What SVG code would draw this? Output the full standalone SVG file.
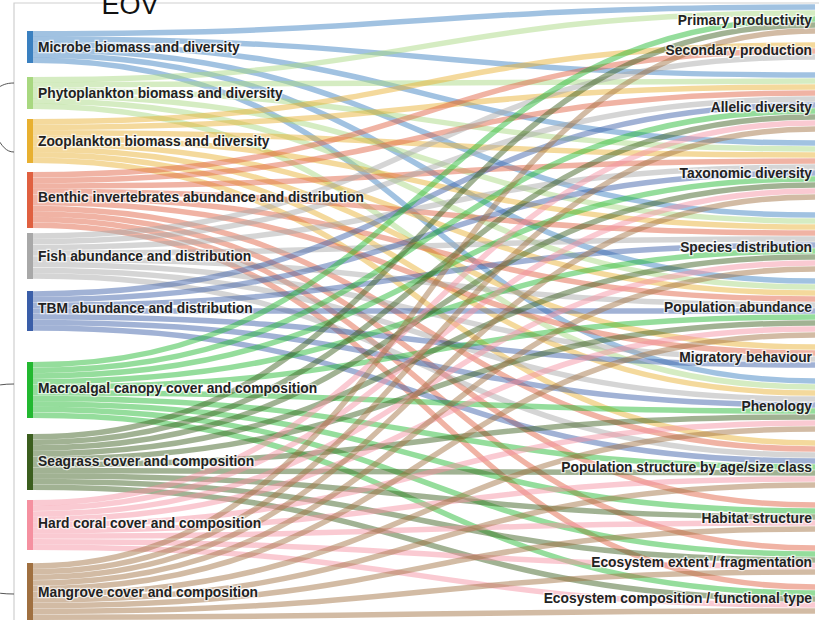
<svg xmlns="http://www.w3.org/2000/svg" width="819" height="620" viewBox="0 0 819 620">
<style>
.lk path{fill:none;stroke-width:5.5;stroke-opacity:0.48}
.c1{stroke:#3a80c0}.c2{stroke:#a8d880}.c3{stroke:#e8b030}.c4{stroke:#e06040}.c5{stroke:#a8a8a8}
.c6{stroke:#3a5ea8}.c7{stroke:#22b830}.c8{stroke:#3b5e1e}.c9{stroke:#f590a0}.c10{stroke:#a07040}
text{font-family:"Liberation Sans",Arial,sans-serif;font-weight:bold;font-size:13.8px;fill:#222;paint-order:stroke;stroke:rgba(255,255,255,0.7);stroke-width:2.5px}
.r text{text-anchor:end}
.frame{fill:none;stroke:#cfcfcf;stroke-width:1.2}
.br{fill:none;stroke:#555;stroke-width:1}
</style>
<rect width="819" height="620" fill="#fff"/>
<path class="frame" d="M14 620V3H819"/>
<path class="br" d="M14 83C6 83 2 85 -4 89L-20 117L-4 136C2 146 6 152 14 152"/>
<path class="br" d="M14 384C4 384 -4 385 -12 388L-20 489L-12 591C-4 593 4 594 14 594"/>
<text x="130" y="14" style="font-weight:normal;font-size:27px;text-anchor:middle;stroke:none;fill:#111">EOV</text>
<g id="connectors" class="lk">
<path class="c1" d="M33 33.7C424 33.7 424 7 815 7"/>
<path class="c1" d="M33 39C424 39 424 75 815 75"/>
<path class="c1" d="M33 44.3C424 44.3 424 143 815 143"/>
<path class="c1" d="M33 49.7C424 49.7 424 215 815 215"/>
<path class="c1" d="M33 55C424 55 424 281 815 281"/>
<path class="c1" d="M33 60.3C424 60.3 424 381 815 381"/>
<path class="c2" d="M33 79.7C424 79.7 424 13 815 13"/>
<path class="c2" d="M33 85C424 85 424 81 815 81"/>
<path class="c2" d="M33 90.3C424 90.3 424 149 815 149"/>
<path class="c2" d="M33 95.7C424 95.7 424 221 815 221"/>
<path class="c2" d="M33 101C424 101 424 287 815 287"/>
<path class="c2" d="M33 106.3C424 106.3 424 387 815 387"/>
<path class="c3" d="M33 121.8C424 121.8 424 45 815 45"/>
<path class="c3" d="M33 127.3C424 127.3 424 87 815 87"/>
<path class="c3" d="M33 132.8C424 132.8 424 155 815 155"/>
<path class="c3" d="M33 138.3C424 138.3 424 227 815 227"/>
<path class="c3" d="M33 143.8C424 143.8 424 293 815 293"/>
<path class="c3" d="M33 149.3C424 149.3 424 347 815 347"/>
<path class="c3" d="M33 154.8C424 154.8 424 393 815 393"/>
<path class="c3" d="M33 160.3C424 160.3 424 443 815 443"/>
<path class="c4" d="M33 174.8C424 174.8 424 51 815 51"/>
<path class="c4" d="M33 180.4C424 180.4 424 93 815 93"/>
<path class="c4" d="M33 186C424 186 424 161 815 161"/>
<path class="c4" d="M33 191.6C424 191.6 424 233 815 233"/>
<path class="c4" d="M33 197.2C424 197.2 424 299 815 299"/>
<path class="c4" d="M33 202.8C424 202.8 424 353 815 353"/>
<path class="c4" d="M33 208.4C424 208.4 424 449 815 449"/>
<path class="c4" d="M33 214C424 214 424 505 815 505"/>
<path class="c4" d="M33 219.6C424 219.6 424 548 815 548"/>
<path class="c4" d="M33 225.2C424 225.2 424 587 815 587"/>
<path class="c5" d="M33 235.9C424 235.9 424 57 815 57"/>
<path class="c5" d="M33 241.6C424 241.6 424 99 815 99"/>
<path class="c5" d="M33 247.4C424 247.4 424 167 815 167"/>
<path class="c5" d="M33 253.1C424 253.1 424 239 815 239"/>
<path class="c5" d="M33 258.9C424 258.9 424 305 815 305"/>
<path class="c5" d="M33 264.6C424 264.6 424 359 815 359"/>
<path class="c5" d="M33 270.4C424 270.4 424 399 815 399"/>
<path class="c5" d="M33 276.1C424 276.1 424 455 815 455"/>
<path class="c6" d="M33 293.9C424 293.9 424 105 815 105"/>
<path class="c6" d="M33 299.6C424 299.6 424 173 815 173"/>
<path class="c6" d="M33 305.3C424 305.3 424 245 815 245"/>
<path class="c6" d="M33 311C424 311 424 311 815 311"/>
<path class="c6" d="M33 316.7C424 316.7 424 365 815 365"/>
<path class="c6" d="M33 322.4C424 322.4 424 405 815 405"/>
<path class="c6" d="M33 328.1C424 328.1 424 461 815 461"/>
<path class="c7" d="M33 364.8C424 364.8 424 19 815 19"/>
<path class="c7" d="M33 370.4C424 370.4 424 111 815 111"/>
<path class="c7" d="M33 376C424 376 424 179 815 179"/>
<path class="c7" d="M33 381.6C424 381.6 424 251 815 251"/>
<path class="c7" d="M33 387.2C424 387.2 424 317 815 317"/>
<path class="c7" d="M33 392.8C424 392.8 424 411 815 411"/>
<path class="c7" d="M33 398.4C424 398.4 424 467 815 467"/>
<path class="c7" d="M33 404C424 404 424 511 815 511"/>
<path class="c7" d="M33 409.6C424 409.6 424 554 815 554"/>
<path class="c7" d="M33 415.2C424 415.2 424 593 815 593"/>
<path class="c8" d="M33 436.8C424 436.8 424 25 815 25"/>
<path class="c8" d="M33 442.4C424 442.4 424 117 815 117"/>
<path class="c8" d="M33 448C424 448 424 185 815 185"/>
<path class="c8" d="M33 453.6C424 453.6 424 257 815 257"/>
<path class="c8" d="M33 459.2C424 459.2 424 323 815 323"/>
<path class="c8" d="M33 464.8C424 464.8 424 417 815 417"/>
<path class="c8" d="M33 470.4C424 470.4 424 473 815 473"/>
<path class="c8" d="M33 476C424 476 424 517 815 517"/>
<path class="c8" d="M33 481.6C424 481.6 424 560 815 560"/>
<path class="c8" d="M33 487.2C424 487.2 424 599 815 599"/>
<path class="c9" d="M33 502.8C424 502.8 424 123 815 123"/>
<path class="c9" d="M33 508.3C424 508.3 424 191 815 191"/>
<path class="c9" d="M33 513.9C424 513.9 424 263 815 263"/>
<path class="c9" d="M33 519.4C424 519.4 424 329 815 329"/>
<path class="c9" d="M33 525C424 525 424 423 815 423"/>
<path class="c9" d="M33 530.6C424 530.6 424 479 815 479"/>
<path class="c9" d="M33 536.1C424 536.1 424 523 815 523"/>
<path class="c9" d="M33 541.7C424 541.7 424 566 815 566"/>
<path class="c9" d="M33 547.2C424 547.2 424 605 815 605"/>
<path class="c10" d="M33 565.9C424 565.9 424 31 815 31"/>
<path class="c10" d="M33 571.6C424 571.6 424 129 815 129"/>
<path class="c10" d="M33 577.3C424 577.3 424 197 815 197"/>
<path class="c10" d="M33 583C424 583 424 269 815 269"/>
<path class="c10" d="M33 588.7C424 588.7 424 335 815 335"/>
<path class="c10" d="M33 594.4C424 594.4 424 429 815 429"/>
<path class="c10" d="M33 600.1C424 600.1 424 485 815 485"/>
<path class="c10" d="M33 605.8C424 605.8 424 529 815 529"/>
<path class="c10" d="M33 611.5C424 611.5 424 572 815 572"/>
<path class="c10" d="M33 617.2C424 617.2 424 611 815 611"/>
</g>
<g id="n-microbe"><rect x="27" y="31" width="6" height="32" fill="#3a80c0"/><text x="38" y="52">Microbe biomass and diversity</text></g>
<g id="n-phyto"><rect x="27" y="77" width="6" height="32" fill="#a8d880"/><text x="38" y="98">Phytoplankton biomass and diversity</text></g>
<g id="n-zoo"><rect x="27" y="119" width="6" height="44" fill="#e8b030"/><text x="38" y="146">Zooplankton biomass and diversity</text></g>
<g id="n-benthic"><rect x="27" y="172" width="6" height="56" fill="#e06040"/><text x="38" y="202">Benthic invertebrates abundance and distribution</text></g>
<g id="n-fish"><rect x="27" y="233" width="6" height="46" fill="#a8a8a8"/><text x="38" y="261">Fish abundance and distribution</text></g>
<g id="n-tbm"><rect x="27" y="291" width="6" height="40" fill="#3a5ea8"/><text x="38" y="313">TBM abundance and distribution</text></g>
<g id="n-macro"><rect x="27" y="362" width="6" height="56" fill="#22b830"/><text x="38" y="393">Macroalgal canopy cover and composition</text></g>
<g id="n-seagrass"><rect x="27" y="434" width="6" height="56" fill="#3b5e1e"/><text x="38" y="466">Seagrass cover and composition</text></g>
<g id="n-coral"><rect x="27" y="500" width="6" height="50" fill="#f590a0"/><text x="38" y="528">Hard coral cover and composition</text></g>
<g id="n-mangrove"><rect x="27" y="563" width="6" height="57" fill="#a07040"/><text x="38" y="597">Mangrove cover and composition</text></g>
<g class="r">
<g id="t-primary"><text x="812" y="25">Primary productivity</text></g>
<g id="t-secondary"><text x="812" y="55">Secondary production</text></g>
<g id="t-allelic"><text x="812" y="112">Allelic diversity</text></g>
<g id="t-taxonomic"><text x="812" y="178">Taxonomic diversity</text></g>
<g id="t-species"><text x="812" y="252">Species distribution</text></g>
<g id="t-popab"><text x="812" y="312">Population abundance</text></g>
<g id="t-migr"><text x="812" y="362">Migratory behaviour</text></g>
<g id="t-phen"><text x="812" y="411">Phenology</text></g>
<g id="t-popstruct"><text x="812" y="472">Population structure by age/size class</text></g>
<g id="t-habitat"><text x="812" y="523">Habitat structure</text></g>
<g id="t-extent"><text x="812" y="567">Ecosystem extent / fragmentation</text></g>
<g id="t-comp"><text x="812" y="603">Ecosystem composition / functional type</text></g>
</g>
</svg>
